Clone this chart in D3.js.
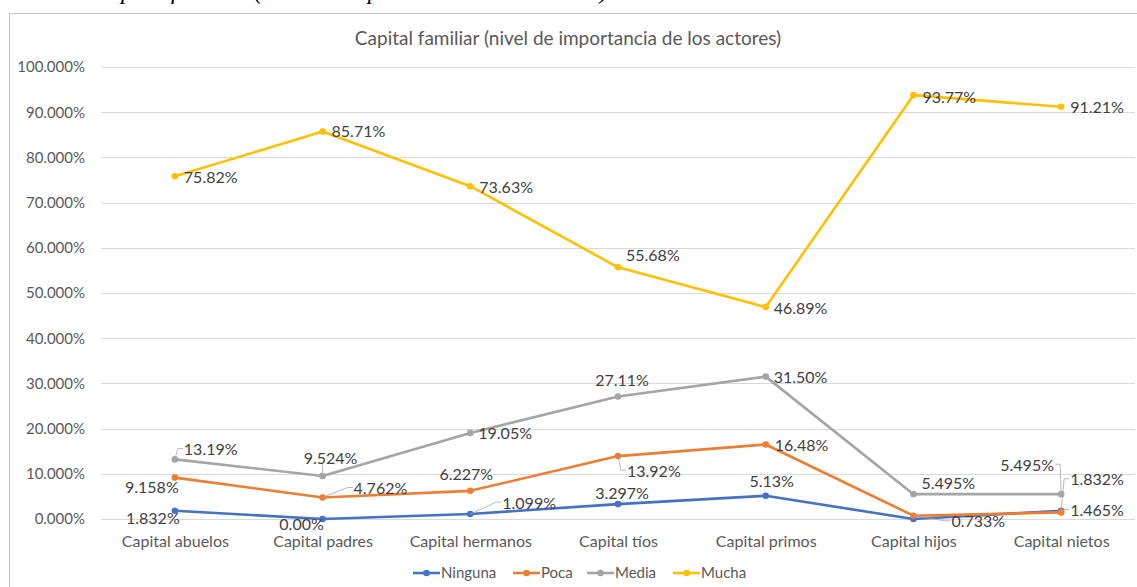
<!DOCTYPE html>
<html>
<head>
<meta charset="utf-8">
<script src="https://cdn.jsdelivr.net/npm/d3@7"></script>
<style>
  body { margin: 0; background: #fff; }
  svg { display: block; }
  svg text { font-family: Lato, "Noto Sans", sans-serif; }
</style>
</head>
<body>
<div id="chart"></div>
<script>
// chart data
const categories = ["Capital abuelos", "Capital padres", "Capital hermanos", "Capital tíos", "Capital primos", "Capital hijos", "Capital nietos"];
const seriesNames = ["Ninguna", "Poca", "Media", "Mucha"];
const ninguna = [1.832, 0.00, 1.099, 3.297, 5.13, 0.00, 1.832];
const poca = [9.158, 4.762, 6.227, 13.92, 16.48, 0.733, 1.465];
const media = [13.19, 9.524, 19.05, 27.11, 31.50, 5.495, 5.495];
const mucha = [75.82, 85.71, 73.63, 55.68, 46.89, 93.77, 91.21];
const ningunaLabels = ["1.832%", "0.00%", "1.099%", "3.297%", "5.13%", "", "1.832%"];
const pocaLabels = ["9.158%", "4.762%", "6.227%", "13.92%", "16.48%", "0.733%", "1.465%"];
const mediaLabels = ["13.19%", "9.524%", "19.05%", "27.11%", "31.50%", "5.495%", "5.495%"];
const muchaLabels = ["75.82%", "85.71%", "73.63%", "55.68%", "46.89%", "93.77%", "91.21%"];
const yTicks = [0, 10, 20, 30, 40, 50, 60, 70, 80, 90, 100];

const colors = ["#4472C4", "#ED7D31", "#A5A5A5", "#FFC000"];

// where each data label sits relative to its point: [anchor, dx, dy, leader line]
const labelPlace = [
  [["middle", -22, 8, 0], ["middle", -21, 5, 0], ["start", 32, -11, 1], ["middle", 4, -11, 0], ["middle", 6, -14, 0], ["start", 0, 0, 0], ["start", 9, -31, 1]],
  [["middle", -23, 10, 0], ["start", 31, -9, 1], ["middle", -4, -16, 0], ["start", 9, 15, 1], ["start", 9, 1, 0], ["start", 38, 6, 1], ["start", 9, -2, 1]],
  [["start", 9, -10, 1], ["middle", 8, -18, 1], ["start", 8, 1, 0], ["middle", 4, -16, 0], ["start", 8, 1, 0], ["start", 8, -11, 0], ["middle", -34, -29, 1]],
  [["start", 9, 1, 0], ["start", 9, 0, 0], ["start", 9, 1, 0], ["start", 8, -12, 0], ["start", 8, 1, 0], ["start", 9, 2, 0], ["start", 9, 1, 0]]
];

const width = 1137, height = 587;
const plot = { left: 101, right: 1135, top: 67, bottom: 519 };

const series = [ninguna, poca, media, mucha].map((vals, i) => ({
  name: seriesNames[i],
  color: colors[i],
  values: vals,
  labels: [ningunaLabels, pocaLabels, mediaLabels, muchaLabels][i],
  place: labelPlace[i]
}));

const svg = d3.select("#chart").append("svg")
  .attr("width", width)
  .attr("height", height);

svg.append("rect").attr("width", width).attr("height", height).attr("fill", "#fff");

// caption of the document, cut at the top edge
svg.append("text")
  .attr("x", 93)
  .attr("y", -1)
  .style("font-family", "'Liberation Serif', serif")
  .style("font-style", "italic")
  .style("font-size", "24px")
  .attr("fill", "#000")
  .text("Capital familiar (nivel de importancia de los actores)");

// chart frame
svg.append("rect")
  .attr("x", 9.5).attr("y", 13.5)
  .attr("width", 1140).attr("height", 600)
  .attr("fill", "none")
  .attr("stroke", "#c4c4c4")
  .attr("stroke-width", 1);

const x = d3.scalePoint().domain(categories).range([plot.left, plot.right]).padding(0.5);
const y = d3.scaleLinear().domain([0, 100]).range([plot.bottom, plot.top]);

// gridlines
svg.append("g")
  .selectAll("line")
  .data(yTicks)
  .enter()
  .append("line")
    .attr("x1", plot.left)
    .attr("x2", plot.right)
    .attr("y1", d => Math.round(y(d)) + 0.5)
    .attr("y2", d => Math.round(y(d)) + 0.5)
    .attr("stroke", "#d9d9d9")
    .attr("stroke-width", 1);

// y axis
const yAxis = d3.axisLeft(y)
  .tickValues(yTicks)
  .tickSize(0)
  .tickPadding(0)
  .tickFormat(d => d3.format(".3f")(d) + "%");
const gy = svg.append("g")
  .attr("transform", `translate(85, 0)`)
  .call(yAxis);
gy.select(".domain").remove();
gy.selectAll("text")
  .attr("fill", "#595959")
  .style("font-size", "15px");

// x axis
const xAxis = d3.axisBottom(x).tickSize(0).tickPadding(0);
const gx = svg.append("g")
  .attr("transform", `translate(0, 536)`)
  .call(xAxis);
gx.select(".domain").remove();
gx.selectAll("text")
  .attr("fill", "#595959")
  .style("font-size", "16px");

// lines + markers
const line = d3.line()
  .x((d, i) => x(categories[i]))
  .y(d => y(d));

series.forEach(s => {
  const g = svg.append("g");
  g.append("path")
    .datum(s.values)
    .attr("d", line)
    .attr("fill", "none")
    .attr("stroke", s.color)
    .attr("stroke-width", 2.6)
    .attr("stroke-linejoin", "round")
    .attr("stroke-linecap", "round");
  g.selectAll("circle")
    .data(s.values)
    .enter()
    .append("circle")
      .attr("cx", (d, i) => x(categories[i]))
      .attr("cy", d => y(d))
      .attr("r", 3.3)
      .attr("fill", s.color);
});

// data labels
const labelLayer = svg.append("g");
series.forEach(s => {
  s.values.forEach((v, i) => {
    const txt = s.labels[i];
    if (!txt) return;
    const [anchor, dx, dy, leader] = s.place[i];
    const px = x(categories[i]), py = y(v);
    const t = labelLayer.append("text")
      .attr("x", px + dx)
      .attr("y", py + dy)
      .attr("dy", "0.35em")
      .attr("text-anchor", anchor)
      .attr("fill", "#404040")
      .style("font-size", "16px")
      .text(txt);
    if (leader) {
      const b = t.node().getBBox();
      // closest point of the label box
      const cx = Math.max(b.x - 1, Math.min(px, b.x + b.width + 1));
      const cy = Math.max(b.y + 2, Math.min(py, b.y + b.height - 2));
      const side = px < b.x ? -5 : (px > b.x + b.width ? 5 : 0);
      const pts = side !== 0
        ? [[px, py], [cx + side, b.y + b.height / 2], [cx, b.y + b.height / 2]]
        : [[px, py], [cx, cy]];
      labelLayer.append("path")
        .attr("d", d3.line()(pts))
        .attr("fill", "none")
        .attr("stroke", "#a6a6a6")
        .attr("stroke-width", 0.8);
    }
  });
});

// legend
const legendItems = seriesNames.map((n, i) => ({ name: n, color: colors[i] }));
const legend = svg.append("g").attr("transform", "translate(0, 573)");
const legX = [413, 513, 587, 673];
legendItems.forEach((d, i) => {
  const g = legend.append("g").attr("transform", `translate(${legX[i]}, 0)`);
  g.append("line")
    .attr("x1", 0).attr("x2", 27)
    .attr("y1", 0).attr("y2", 0)
    .attr("stroke", d.color)
    .attr("stroke-width", 2.6);
  g.append("circle").attr("cx", 13.5).attr("cy", 0).attr("r", 3.3).attr("fill", d.color);
  g.append("text")
    .attr("x", 28)
    .attr("y", 0)
    .attr("dy", "0.35em")
    .attr("fill", "#595959")
    .style("font-size", "15px")
    .text(d.name);
});

// chart title
svg.append("text")
  .attr("x", 568)
  .attr("y", 38)
  .attr("dy", "0.35em")
  .attr("text-anchor", "middle")
  .attr("fill", "#595959")
  .style("font-size", "19px")
  .text("Capital familiar (nivel de importancia de los actores)");
</script>
</body>
</html>
